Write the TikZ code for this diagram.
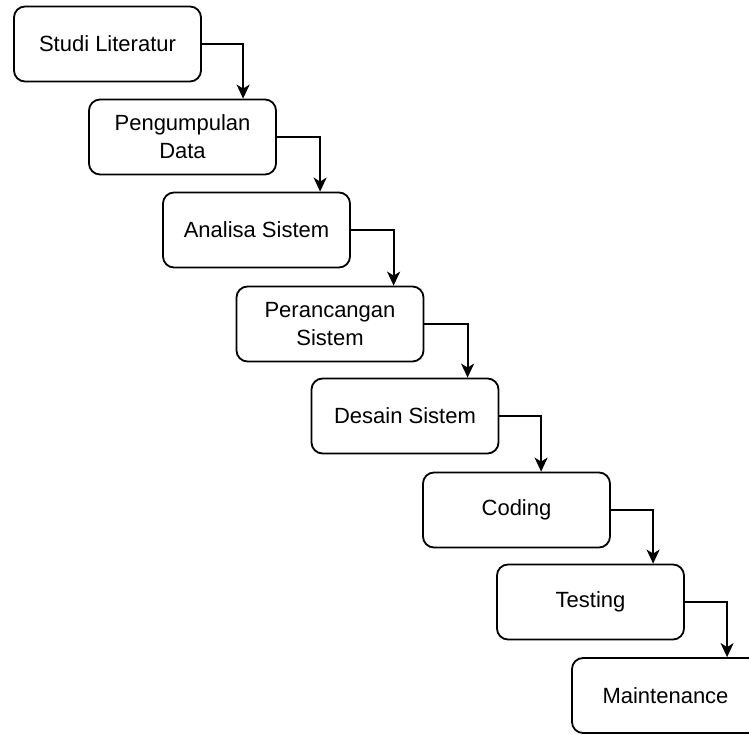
\documentclass[tikz,border=0pt]{standalone}
\usepackage{fontspec}
\setmainfont{Liberation Sans}
\usetikzlibrary{arrows.meta,calc}
\begin{document}
\begin{tikzpicture}[x=1pt,y=-1pt,
  stepbox/.style={draw=black, line width=1.8pt, rounded corners=11pt, minimum width=187pt, minimum height=75pt, inner sep=0pt, align=center, font=\fontsize{22}{28}\selectfont, fill=white},
  conn/.style={line width=1.8pt, -{Stealth[length=14pt,width=13pt,inset=4pt]}}]
\useasboundingbox (0,0) rectangle (749,735);
\node[stepbox] (s1) at (107.5,44) {Studi Literatur};
\node[stepbox] (s2) at (182.5,137) {Pengumpulan\\Data};
\node[stepbox] (s3) at (256.5,230) {Analisa Sistem};
\node[stepbox] (s4) at (330,324) {Perancangan\\Sistem};
\node[stepbox] (s5) at (405,416) {Desain Sistem};
\node[stepbox] (s6) at (516.5,510) {Coding};
\node[stepbox] (s7) at (590.5,602) {Testing};
\node[stepbox] (s8) at (665.5,695.5) {Maintenance};
\draw[conn] (s1.east) -| ([xshift=155pt]s2.north west);
\draw[conn] (s2.east) -| ([xshift=158pt]s3.north west);
\draw[conn] (s3.east) -| ([xshift=158pt]s4.north west);
\draw[conn] (s4.east) -| ([xshift=157pt]s5.north west);
\draw[conn] (s5.east) -| ([xshift=119pt]s6.north west);
\draw[conn] (s6.east) -| ([xshift=157pt]s7.north west);
\draw[conn] (s7.east) -| ([xshift=156pt]s8.north west);
\end{tikzpicture}
\end{document}
